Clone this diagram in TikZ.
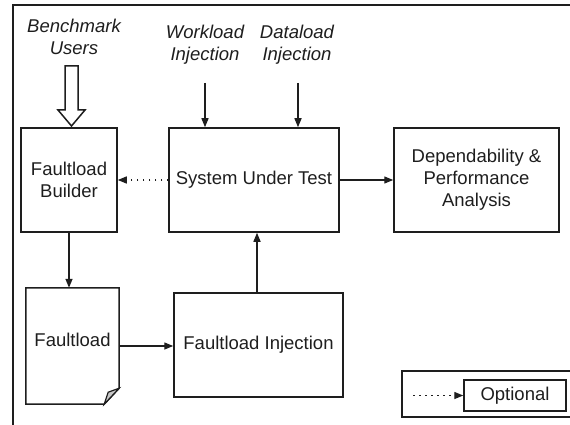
\documentclass[tikz,border=0pt]{standalone}
\usepackage{fontspec}
\setmainfont{Liberation Sans}
\usetikzlibrary{arrows.meta,calc}
\definecolor{ink}{HTML}{1E1E1E}
\definecolor{foldgray}{HTML}{C8C8C8}
\begin{document}
\begin{tikzpicture}[x=1pt,y=-1pt,
  every node/.style={font=\fontsize{18.5}{22}\selectfont, text=ink, align=center},
  block/.style={draw=ink, line width=1.5pt, inner sep=0pt},
  flow/.style={draw=ink, line width=1.4pt, -{Triangle[length=9pt,width=7pt]}},
  optflow/.style={flow, dash pattern=on 1.5pt off 4.5pt},
  cue/.style={font=\fontsize{18.5}{22}\selectfont\itshape}]
\useasboundingbox (0,0) rectangle (570,425);

% outer frame (top and left edges)
\draw[ink, line width=1.5pt] (13,425) -- (13,5) -- (570,5);

% main blocks
\node[block, minimum width=96pt, minimum height=104pt] (builder) at (69,180) {Faultload\\Builder};
\node[block, minimum width=170pt, minimum height=104pt] (sut) at (254,180) {System Under Test};
\node[block, minimum width=165pt, minimum height=104pt] (dep) at (476.5,180) {Dependability \&\\Performance\\Analysis};
\node[block, minimum width=169pt, minimum height=104pt] (finj) at (258.5,345) {Faultload Injection};

% faultload document with folded corner
\node[minimum width=93pt, minimum height=116pt, inner sep=0pt] (fload) at (72.5,346) {};
\node at ($(fload.center)+(0,-6)$) {Faultload};
\draw[ink, line width=1.5pt, line join=miter]
  (fload.north west) -- (fload.north east) -- ($(fload.south east)+(0,-16)$)
  -- ($(fload.south east)+(-15,0)$) -- (fload.south west) -- cycle;
\draw[ink, line width=1.2pt, fill=foldgray, line join=miter]
  ($(fload.south east)+(0,-16)$) -- ($(fload.south east)+(-11,-12)$)
  -- ($(fload.south east)+(-15,0)$) -- cycle;

% input labels
\node[cue] (users) at (74,37) {Benchmark\\Users};
\node[cue] (wload) at (205,45) {Workload\\Injection};
\node[cue] (dload) at (297,45) {Dataload\\Injection};
\coordinate (wtail) at (205,83);
\coordinate (dtail) at (298,83);

% hollow arrow from the benchmark users
\draw[ink, line width=1.5pt, line join=miter, fill=white]
  (65,66) -- (78,66) -- (78,110) -- (85,110) -- (71.5,126) -- (58,110) -- (65,110) -- cycle;

% connectors
\draw[flow] (wtail) -- (wtail |- sut.north);
\draw[flow] (dtail) -- (dtail |- sut.north);
\draw[flow] (sut.east) -- (dep.west);
\draw[optflow] (sut.west) -- (builder.east);
\draw[flow] (builder.south) -- (builder.south |- fload.north);
\draw[flow] (fload.east) -- (fload.east -| finj.west);
\draw[flow] ([xshift=-1.5pt]finj.north) -- ([xshift=-1.5pt]finj.north |- sut.south);

% legend
\draw[ink, line width=1.5pt] (570,371) -- (402,371) -- (402,417) -- (570,417);
\node[block, minimum width=102pt, minimum height=31pt] (opt) at (515,395.5) {Optional};
\coordinate (ltail) at (413,395.5);
\draw[optflow] (ltail) -- (opt.west);
\end{tikzpicture}
\end{document}
